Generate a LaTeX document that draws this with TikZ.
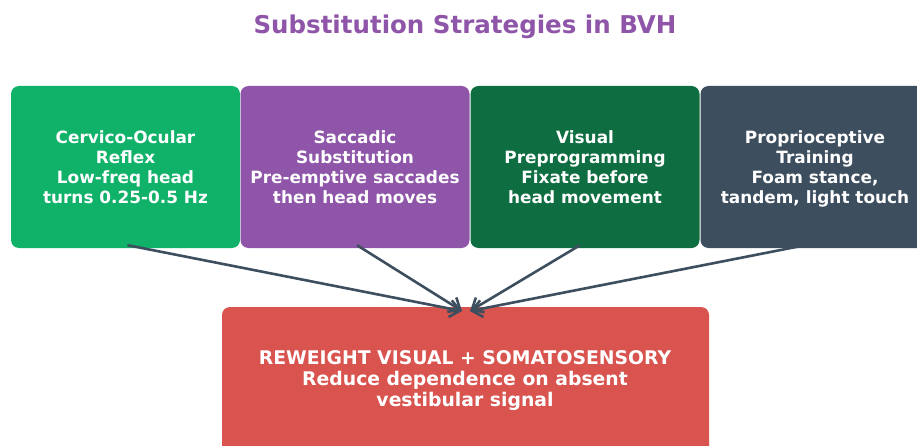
\documentclass[tikz,border=0pt]{standalone}
\usepackage{fontspec}
\setmainfont{DejaVu Sans}
\usetikzlibrary{arrows.meta}
\definecolor{cgreen}{HTML}{10B26A}
\definecolor{cpurple}{HTML}{8E55A8}
\definecolor{cdkgreen}{HTML}{0F6E41}
\definecolor{cslate}{HTML}{3D4E5F}
\definecolor{cred}{HTML}{D9534F}
\newcommand{\tpa}{\rule{0pt}{16.3pt}}
\newcommand{\tpb}{\vphantom{g}}
\begin{document}
\begin{tikzpicture}[x=1pt,y=-1pt,
  card/.style={rounded corners=8pt, minimum width=229pt, minimum height=162pt, inner sep=0pt, text=white, align=center, font=\bfseries\fontsize{16.9}{20}\selectfont},
  link/.style={draw=cslate, line width=2.6pt, -{Straight Barb[length=10pt,width=17pt,line width=2.6pt]}}]
\useasboundingbox (0,0) rectangle (917,446);
\node[font=\bfseries\fontsize{24.5}{28}\selectfont, text=cpurple] (title) at (465,27) {Substitution Strategies in BVH};
\node[card, fill=cgreen] (b1) at (125.5,167) {\tpa Cervico-Ocular\\Reflex\\Low-freq head\\turns 0.25-0.5 Hz\tpb};
\node[card, fill=cpurple] (b2) at (355,167) {\tpa Saccadic\\Substitution\\Pre-emptive saccades\\then head moves\tpb};
\node[card, fill=cdkgreen] (b3) at (585,167) {\tpa Visual\\Preprogramming\\Fixate before\\head movement\tpb};
\node[card, fill=cslate] (b4) at (815,167) {\tpa Proprioceptive\\Training\\Foam stance,\\tandem, light touch\tpb};
\node[rounded corners=8pt, fill=cred, minimum width=487pt, minimum height=160pt, inner sep=0pt] (res) at (465.5,387) {};
\node[text=white, align=center, font=\bfseries\fontsize{18.8}{21}\selectfont] (restext) at (465,380.5) {REWEIGHT VISUAL + SOMATOSENSORY\\Reduce dependence on absent\\vestibular signal};
\coordinate (t1) at (462,311);
\coordinate (t2) at (470,311);
\draw[link] ([xshift=2pt,yshift=3pt]b1.south) -- (t1);
\draw[link] ([xshift=2pt,yshift=3pt]b2.south) -- (t1);
\draw[link] ([xshift=-5pt,yshift=3pt]b3.south) -- (t2);
\draw[link] ([xshift=-15pt,yshift=2pt]b4.south) -- (t2);
\end{tikzpicture}
\end{document}
